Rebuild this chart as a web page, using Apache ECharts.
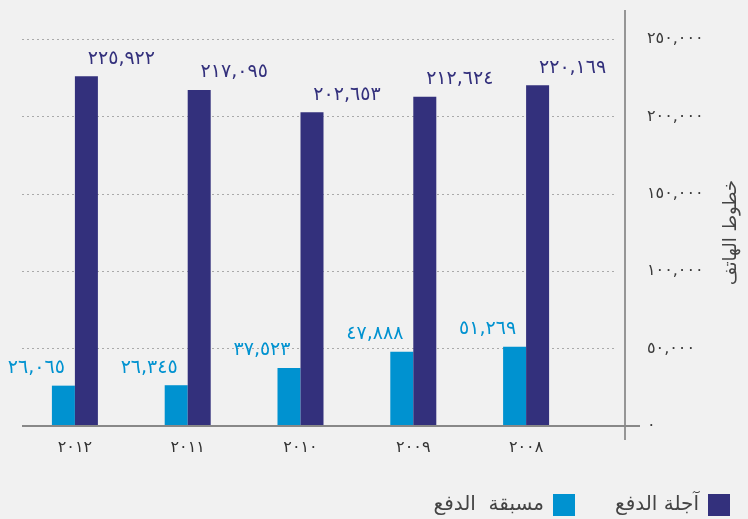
<!DOCTYPE html>
<html>
<head>
<meta charset="utf-8">
<script src="https://cdn.jsdelivr.net/npm/echarts@6/dist/echarts.min.js"></script>
<style>
html,body{margin:0;padding:0;background:#f1f1f1;}
#c{width:748px;height:519px;}
</style>
</head>
<body>
<div id="c"></div>
<script>
const categories = ['٢٠٠٨', '٢٠٠٩', '٢٠١٠', '٢٠١١', '٢٠١٢'];
const seriesNames = ['مسبقة  الدفع', 'آجلة الدفع'];
const prepaid = [51269, 47888, 37523, 26345, 26065];
const postpaid = [220169, 212624, 202653, 217095, 225922];
const yTicks = [0, 50000, 100000, 150000, 200000, 250000];
const axisName = 'خطوط الهاتف';

const digits = '٠١٢٣٤٥٦٧٨٩';
function toArabic(n) {
  const s = Math.round(n).toString().replace(/\B(?=(\d{3})+(?!\d))/g, ',');
  return s.replace(/\d/g, d => digits[+d]);
}

const LIGHT = '#0092d0';
const DARK = '#33307c';
const FONT = 'DejaVu Sans, sans-serif';

const chart = echarts.init(document.getElementById('c'));
chart.setOption({
  backgroundColor: '#f1f1f1',
  animation: false,
  grid: [
    {left: 18.5, width: 564, top: 39, bottom: 93},
    {left: 22, right: 123, top: 39, bottom: 93}
  ],
  legend: {
    data: seriesNames,
    right: 13, top: 489,
    align: 'right',
    icon: 'rect',
    itemWidth: 22, itemHeight: 22,
    itemGap: 40,
    textStyle: {fontSize: 20, color: '#444', fontFamily: FONT, padding: [0, 4, 0, 0]}
  },
  xAxis: [
    {
      type: 'category', gridIndex: 0, data: categories, inverse: true,
      axisLine: {show: false}, axisTick: {show: false},
      axisLabel: {margin: 14, fontSize: 16, color: '#333', fontFamily: FONT}
    },
    {
      type: 'value', gridIndex: 1, min: 0, max: 1, show: false
    }
  ],
  yAxis: [
    {
      type: 'value', gridIndex: 0, min: 0, max: 250000, interval: 50000, show: false
    },
    {
      type: 'value', gridIndex: 1, position: 'right', min: 0, max: 250000, interval: 50000,
      axisLine: {show: false}, axisTick: {show: false},
      splitLine: {show: true, lineStyle: {type: [2, 3], color: '#aaa', width: 1}},
      axisLabel: {
        margin: 33, align: 'left', fontSize: 16, color: '#3a3a3a', fontFamily: FONT,
        showMinLabel: true, showMaxLabel: true,
        formatter: v => toArabic(v)
      },
      name: axisName, nameLocation: 'middle', nameGap: 108, nameRotate: 90,
      nameTextStyle: {fontSize: 18, color: '#444', fontFamily: FONT}
    }
  ],
  graphic: [
    {type: 'line', shape: {x1: 625, y1: 10, x2: 625, y2: 440}, style: {stroke: '#777', lineWidth: 1.5}, z: 10},
    {type: 'line', shape: {x1: 22, y1: 426, x2: 640, y2: 426}, style: {stroke: '#888', lineWidth: 2}, z: 10}
  ],
  series: [
    {
      name: seriesNames[0], type: 'bar', xAxisIndex: 0, yAxisIndex: 0,
      data: prepaid, barWidth: 23, barGap: '0%',
      itemStyle: {color: LIGHT},
      label: {
        show: true, position: 'top', offset: [-27, -3], color: LIGHT,
        fontSize: 19, fontFamily: FONT, formatter: p => toArabic(p.value)
      }
    },
    {
      name: seriesNames[1], type: 'bar', xAxisIndex: 0, yAxisIndex: 0,
      data: postpaid, barWidth: 23, barGap: '0%',
      itemStyle: {color: DARK},
      label: {
        show: true, position: 'top', offset: [35, -3], color: DARK,
        fontSize: 19, fontFamily: FONT, formatter: p => toArabic(p.value)
      }
    }
  ]
});
</script>
</body>
</html>
